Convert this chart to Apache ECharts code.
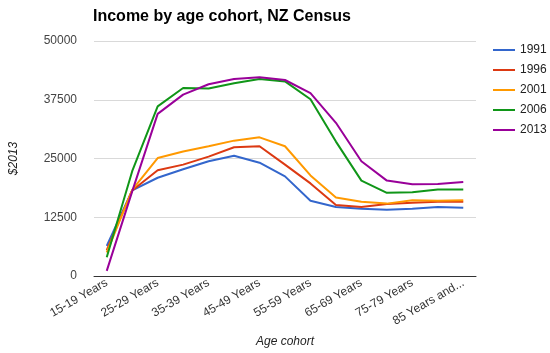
<!DOCTYPE html>
<html>
<head>
<meta charset="utf-8">
<title>Income by age cohort, NZ Census</title>
<script src="https://cdn.jsdelivr.net/npm/echarts@6/dist/echarts.min.js"></script>
<style>
  html, body { margin: 0; padding: 0; background: #fff; }
  #chart { width: 550px; height: 353px; }
</style>
</head>
<body>
<div id="chart"></div>
<script type="text/javascript">
  // age groups (x axis)
  var ageGroups = ['15-19 Years', '20-24 Years', '25-29 Years', '30-34 Years', '35-39 Years',
    '40-44 Years', '45-49 Years', '50-54 Years', '55-59 Years', '60-64 Years',
    '65-69 Years', '70-74 Years', '75-79 Years', '80-84 Years', '85 Years and over'];

  // income per census year, $2013
  var y1991 = [6400, 18200, 20900, 22700, 24400, 25600, 24100, 21200, 16000, 14700, 14300, 14100, 14300, 14700, 14500];
  var y1996 = [5500, 18200, 22500, 23700, 25400, 27400, 27600, 23700, 19700, 15100, 14700, 15300, 15600, 15800, 15800];
  var y2001 = [5000, 18300, 25100, 26500, 27600, 28800, 29500, 27600, 21400, 16700, 15800, 15400, 16100, 16000, 16100];
  var y2006 = [4000, 22300, 36100, 40000, 39900, 41000, 41900, 41400, 37600, 28600, 20300, 17700, 17800, 18400, 18400];
  var y2013 = [1100, 18000, 34500, 38600, 40800, 41900, 42300, 41700, 38900, 32600, 24400, 20300, 19500, 19600, 20000];

  var yearNames = ['1991', '1996', '2001', '2006', '2013'];
  var yearData = [y1991, y1996, y2001, y2006, y2013];
  var colors = ['#3366cc', '#dc3912', '#ff9900', '#109618', '#990099'];

  var chart = echarts.init(document.getElementById('chart'));

  var seriesList = [];
  for (var i = 0; i < yearNames.length; i++) {
    seriesList.push({
      name: yearNames[i],
      type: 'line',
      data: yearData[i],
      showSymbol: false,
      symbol: 'none',
      lineStyle: { width: 2, color: colors[i] },
      itemStyle: { color: colors[i] }
    });
  }

  var option = {
    animation: false,
    textStyle: { fontFamily: 'Liberation Sans, Arial, sans-serif' },
    title: {
      text: 'Income by age cohort, NZ Census',
      left: 88,
      top: 4,
      textStyle: { fontSize: 16, fontWeight: 'bold', color: '#000', fontFamily: 'Liberation Sans, Arial' }
    },
    legend: {
      orient: 'vertical',
      left: 488,
      top: 39,
      itemWidth: 22,
      itemHeight: 2,
      itemGap: 8,
      icon: 'rect',
      data: yearNames,
      textStyle: { fontSize: 12, color: '#222' }
    },
    grid: { left: 92, right: 74, top: 41, bottom: 76, containLabel: false },
    xAxis: {
      type: 'category',
      data: ageGroups,
      boundaryGap: true,
      name: 'Age cohort',
      nameLocation: 'middle',
      nameGap: 60,
      nameTextStyle: { fontStyle: 'italic', fontSize: 12, color: '#222' },
      axisLine: { lineStyle: { color: '#333', width: 1 } },
      axisTick: { show: false },
      axisLabel: {
        interval: 1,
        rotate: 30,
        fontSize: 12,
        color: '#333',
        margin: 6,
        width: 84,
        overflow: 'truncate',
        ellipsis: '...'
      }
    },
    yAxis: {
      type: 'value',
      min: 0,
      max: 50000,
      interval: 12500,
      name: '$2013',
      nameLocation: 'middle',
      nameGap: 74,
      nameRotate: 90,
      nameTextStyle: { fontStyle: 'italic', fontSize: 12, color: '#222' },
      axisLine: { show: false },
      axisTick: { show: false },
      axisLabel: {
        fontSize: 12,
        color: '#444',
        margin: 17,
        formatter: function (v) { return String(v); }
      },
      splitLine: { lineStyle: { color: '#d9d9d9', width: 1 } }
    },
    series: seriesList
  };

  chart.setOption(option);
</script>
</body>
</html>
